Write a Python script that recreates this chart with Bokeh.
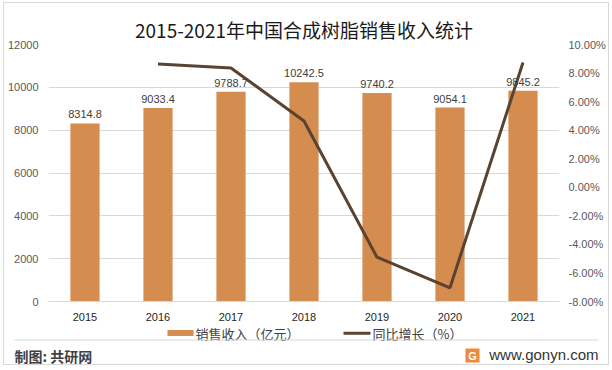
import numpy as np
from bokeh.plotting import figure
from bokeh.layouts import column
from bokeh.models import (ColumnDataSource, Range1d, LinearAxis, FixedTicker,
                          PrintfTickFormatter, Label, FactorRange, Title,
                          BoxAnnotation)
from bokeh.core.properties import value
from bokeh.embed import file_html
from bokeh.resources import INLINE

years = ["2015", "2016", "2017", "2018", "2019", "2020", "2021"]
revenue = [8314.8, 9033.4, 9788.7, 10242.5, 9740.2, 9054.1, 9845.2]
growth = [np.nan, 8.64, 8.36, 4.64, -4.90, -7.04, 8.74]  # percent
left_ticks = [0, 2000, 4000, 6000, 8000, 10000, 12000]
right_ticks = [-8, -6, -4, -2, 0, 2, 4, 6, 8, 10]
title_text = "2015-2021年中国合成树脂销售收入统计"
bar_name = "销售收入（亿元）"
line_name = "同比增长（%）"
source_text = "制图: 共研网"
site_text = "www.gonyn.com"

BAR = "#D48C4F"
LINE = "#5A4330"
GRID = "#D9D9D9"
FONT = "Noto Sans CJK SC"
NUMF = "Liberation Sans"

src = ColumnDataSource(dict(
    year=years, rev=revenue, lab=["%.1f" % v for v in revenue],
    g=growth))

# ---------------- main chart ----------------
p = figure(x_range=FactorRange(*years), y_range=Range1d(0, 12000),
           width=604, height=322, output_backend="svg", toolbar_location=None,
           min_border_left=44, min_border_right=49, min_border_top=41,
           min_border_bottom=24)
p.frame_align = False
p.extra_y_ranges = {"pct": Range1d(-8, 10)}
p.outline_line_color = None
p.background_fill_color = "white"
p.border_fill_color = "white"

p.vbar(x="year", top="rev", width=0.4, source=src, fill_color=BAR,
       line_color=None)
p.line(x="year", y="g", source=src, y_range_name="pct",
       line_color=LINE, line_width=3)
p.text(x="year", y="rev", text="lab", source=src, text_align="center",
       text_baseline="bottom", y_offset=-5, text_font_size="11px",
       text_color="#404040", text_font=value(NUMF))


def style_axis(ax, standoff, color):
    ax.axis_line_color = None
    ax.major_tick_line_color = None
    ax.minor_tick_line_color = None
    ax.major_tick_out = 0
    ax.major_tick_in = 0
    ax.minor_tick_out = 0
    ax.minor_tick_in = 0
    ax.major_label_standoff = standoff
    ax.major_label_text_font_size = "11px"
    ax.major_label_text_color = color
    ax.major_label_text_font = NUMF


p.yaxis.ticker = FixedTicker(ticks=left_ticks)
for ax in p.yaxis:
    style_axis(ax, 10, "#595959")
for ax in p.xaxis:
    style_axis(ax, 11, "#262626")
    ax.axis_line_color = GRID

ra = LinearAxis(y_range_name="pct", ticker=FixedTicker(ticks=right_ticks),
                formatter=PrintfTickFormatter(format="%.2f%%"))
style_axis(ra, 9, "#595959")
p.add_layout(ra, "right")

p.xgrid.grid_line_color = None
p.ygrid.grid_line_color = GRID
p.ygrid.grid_line_width = 1

p.add_layout(Title(text=title_text, align="center", offset=3,
                   text_font_size="19px", text_font=FONT,
                   text_font_style="normal", text_color="#1A1A1A",
                   standoff=4), "above")

# ---------------- legend + footer strip ----------------
q = figure(width=604, height=39, output_backend="svg", toolbar_location=None,
           x_range=Range1d(0, 604), y_range=Range1d(39, 0),
           x_axis_location=None, y_axis_location=None, min_border=0)
q.frame_align = False
q.outline_line_color = None
q.xgrid.visible = False
q.ygrid.visible = False
q.background_fill_color = "white"
q.border_fill_color = "white"

# legend keys and labels
q.add_layout(BoxAnnotation(left=163, right=189, top=4.5, bottom=10.5,
                           fill_color=BAR, fill_alpha=1, line_color=None))
q.add_layout(Label(x=191, y=7.5, text=bar_name, text_font=FONT,
                   text_font_size="13px", text_color="#404040",
                   text_baseline="middle"))
q.add_layout(BoxAnnotation(left=339, right=366, top=6.2, bottom=9.2,
                           fill_color=LINE, fill_alpha=1, line_color=None))
q.add_layout(Label(x=368, y=7.5, text=line_name, text_font=FONT,
                   text_font_size="13px", text_color="#404040",
                   text_baseline="middle"))

# separator and footer
q.add_layout(BoxAnnotation(left=10, right=594, top=14, bottom=15,
                           fill_color=GRID, fill_alpha=1, line_color=None))
q.add_layout(Label(x=10, y=30, text=source_text, text_font=FONT,
                   text_font_size="14px", text_font_style="bold",
                   text_color="#404040", text_baseline="middle"))
q.add_layout(Label(x=594, y=29, text=site_text, text_font=NUMF,
                   text_font_size="15px", text_align="right",
                   text_baseline="middle", text_color="#333333"))
q.add_layout(BoxAnnotation(left=461, right=475, top=23, bottom=37,
                           fill_color="#F0883E", fill_alpha=1,
                           line_color=None))
q.add_layout(Label(x=468, y=30, text="G", text_font=NUMF,
                   text_font_size="11px", text_font_style="bold",
                   text_align="center", text_baseline="middle",
                   text_color="white"))

layout = column(p, q, margin=(2, 0, 0, 3),
                styles={"border": "1px solid #D9D9D9"})

with open("out.html", "w") as f:
    f.write(file_html(layout, INLINE))
